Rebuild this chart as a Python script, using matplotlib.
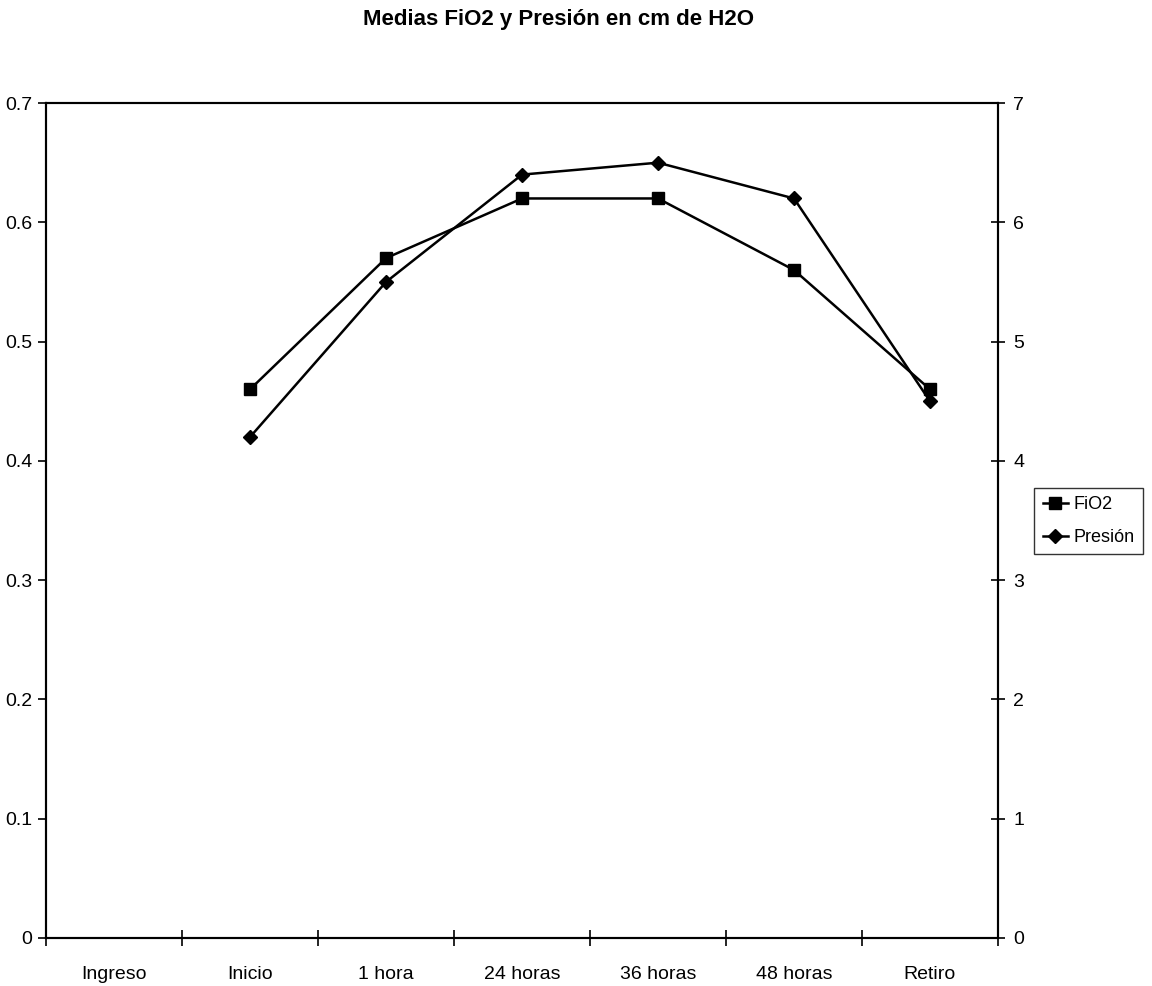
import matplotlib
matplotlib.use("Agg")
from matplotlib import pyplot as plt
import numpy as np

plt.rcParams['font.family'] = ['Liberation Sans Narrow', 'Liberation Sans', 'DejaVu Sans']

# datos
momentos = ['Ingreso', 'Inicio', '1 hora', '24 horas', '36 horas', '48 horas', 'Retiro']
fio2 = [np.nan, 0.46, 0.57, 0.62, 0.62, 0.56, 0.46]
presion = [np.nan, 4.2, 5.5, 6.4, 6.5, 6.2, 4.5]

fig = plt.figure(figsize=(11.52, 9.86), dpi=100)
ax = fig.add_axes([0.040, 0.0487, 0.8263, 0.8468])
ax2 = ax.twinx()

x = np.arange(len(momentos))
l1, = ax.plot(x, fio2, color='black', lw=1.8, marker='s', ms=8, label='FiO2')
l2, = ax2.plot(x, presion, color='black', lw=1.8, marker='D', ms=7, label='Presión')

ax.set_xlim(-0.5, len(momentos) - 0.5)
ax.set_ylim(0, 0.7)
ax2.set_ylim(0, 7)
ax.set_yticks(np.arange(0, 0.71, 0.1))
ax.set_yticklabels(['0', '0.1', '0.2', '0.3', '0.4', '0.5', '0.6', '0.7'])
ax2.set_yticks(range(0, 8))

# ticks del eje x entre categorias
ax.set_xticks(np.arange(-0.5, len(momentos), 1.0))
ax.set_xticklabels([])
ax.set_xticks(x, minor=True)
ax.set_xticklabels(momentos, minor=True)
ax.tick_params(axis='x', which='minor', length=0, pad=20, labelsize=14)
ax.tick_params(axis='x', which='major', direction='inout', length=12, width=1.2)
ax.tick_params(axis='y', direction='out', length=6, width=1.2, labelsize=14, pad=4)
ax2.tick_params(axis='y', direction='inout', length=10, width=1.2, labelsize=14, pad=6)

for a in (ax, ax2):
    for s in a.spines.values():
        s.set_linewidth(1.5)
        s.set_color('black')

fig.suptitle('Medias FiO2 y Presión en cm de H2O', x=0.485, y=0.98, va='center',
             fontsize=16, fontweight='bold')

leg = fig.legend([l1, l2], ['FiO2', 'Presión'], loc='center left',
                 bbox_to_anchor=(0.898, 0.4716), borderaxespad=0, fontsize=13,
                 frameon=True, fancybox=False, edgecolor='black', handlelength=1.4,
                 handletextpad=0.3, borderpad=0.45, labelspacing=0.9)
leg.get_frame().set_linewidth(1.0)

fig.savefig('out.png', dpi=100)
